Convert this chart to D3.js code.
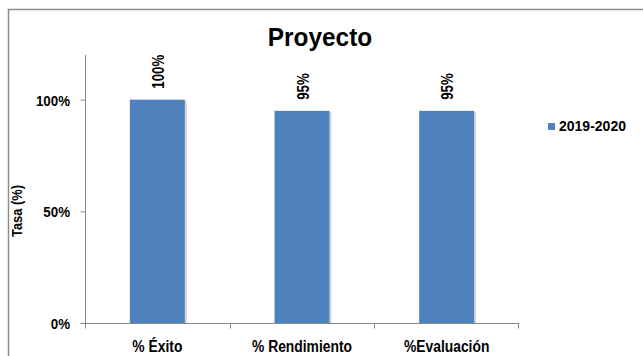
<!DOCTYPE html>
<html>
<head>
<meta charset="utf-8">
<script src="https://cdn.jsdelivr.net/npm/d3@7"></script>
<style>
    html, body { margin: 0; padding: 0; background: #fff; }
    svg { display: block; font-family: "Liberation Sans", Arial, sans-serif; font-weight: bold; }
</style>
</head>
<body>
<div id="chart"></div>
<script>
// chart data
var categories = ['% Éxito', '% Rendimiento', '%Evaluación'];
var values2019 = [1.00, 0.95, 0.95];
var seriesName = '2019-2020';
var yTicks = [0, 0.5, 1.0];
var yTickLabels = ['0%', '50%', '100%'];
var valueLabels = ['100%', '95%', '95%'];

(function () {
    'use strict';

    var width = 643, height = 356;
    var barColor = '#4f81bd', axisColor = '#868686';

    var svg = d3.select('#chart').append('svg')
        .attr('width', width)
        .attr('height', height);

    // outer frame of the chart area
    svg.append('rect')
        .attr('x', 8.5).attr('y', 9.5)
        .attr('width', width).attr('height', height)
        .attr('fill', 'none')
        .attr('stroke', '#8c8c8c')
        .attr('stroke-width', 1.5);

    var x = d3.scaleBand().domain(categories).range([85, 519]).padding(0);
    var y = d3.scaleLinear().domain([0, 1.2]).range([323, 55]);

    // text is a bit condensed in the original, so squeeze it horizontally
    function label(g, px, py, txt, size, anchor, sx, rot) {
        return g.append('text')
            .attr('transform', 'translate(' + px + ',' + py + ')' + (rot ? ' rotate(' + rot + ')' : '') + ' scale(' + sx + ',1)')
            .attr('text-anchor', anchor)
            .style('font-size', size + 'px')
            .attr('fill', '#000')
            .text(txt);
    }

    // title
    label(svg, 320, 46, 'Proyecto', 26.5, 'middle', 0.92);

    // bars (with light shadow on the right)
    var bw = x.bandwidth() * 0.38;
    var bars = svg.append('g');
    bars.selectAll('rect.shadow')
        .data(values2019)
        .enter().append('rect')
        .attr('class', 'shadow')
        .attr('x', (d, i) => x(categories[i]) + x.bandwidth() / 2 - bw / 2 + 2)
        .attr('y', d => y(d) + 1)
        .attr('width', bw)
        .attr('height', d => y(0) - y(d) - 1)
        .attr('fill', '#d6d6d6');
    bars.selectAll('rect.bar')
        .data(values2019)
        .enter().append('rect')
        .attr('class', 'bar')
        .attr('x', (d, i) => x(categories[i]) + x.bandwidth() / 2 - bw / 2)
        .attr('y', d => y(d))
        .attr('width', bw)
        .attr('height', d => y(0) - y(d))
        .attr('fill', barColor);

    // y axis
    var yAxis = svg.append('g')
        .attr('transform', 'translate(85.5,0)')
        .call(d3.axisLeft(y).tickValues(yTicks).tickSize(5).tickFormat(''));
    yAxis.select('.domain').attr('d', 'M0,' + y(1.2) + 'V' + y(0));
    yAxis.selectAll('line, path').attr('stroke', axisColor);
    yTicks.forEach(function (v, i) {
        label(svg, 70, y(v) + 6, yTickLabels[i], 15.5, 'end', 0.86);
    });

    // x axis with ticks at category boundaries
    var xAxis = svg.append('g')
        .attr('transform', 'translate(0,' + (y(0) + 0.5) + ')');
    xAxis.append('line')
        .attr('x1', 85).attr('x2', 519)
        .attr('stroke', axisColor);
    xAxis.selectAll('line.tick')
        .data(categories.concat(['end']))
        .enter().append('line')
        .attr('class', 'tick')
        .attr('x1', (d, i) => i < categories.length ? Math.round(x(d)) + 0.5 : 518.5)
        .attr('x2', (d, i) => i < categories.length ? Math.round(x(d)) + 0.5 : 518.5)
        .attr('y1', 0).attr('y2', 5)
        .attr('stroke', axisColor);
    categories.forEach(function (c) {
        label(svg, x(c) + x.bandwidth() / 2, 352, c, 17, 'middle', 0.815);
    });

    // value labels, rotated
    values2019.forEach(function (v, i) {
        var cx = x(categories[i]) + x.bandwidth() / 2;
        label(svg, cx + 6.5, y(v) - 11, valueLabels[i], 16, 'start', 0.83, -90);
    });

    // axis title
    label(svg, 22, 211, 'Tasa (%)', 14, 'middle', 0.92, -90);

    // legend
    var leg = svg.append('g');
    leg.append('rect')
        .attr('x', 548).attr('y', 123)
        .attr('width', 7).attr('height', 7)
        .attr('fill', barColor);
    label(leg, 559, 131, seriesName, 14, 'start', 1);
}());
</script>
</body>
</html>
